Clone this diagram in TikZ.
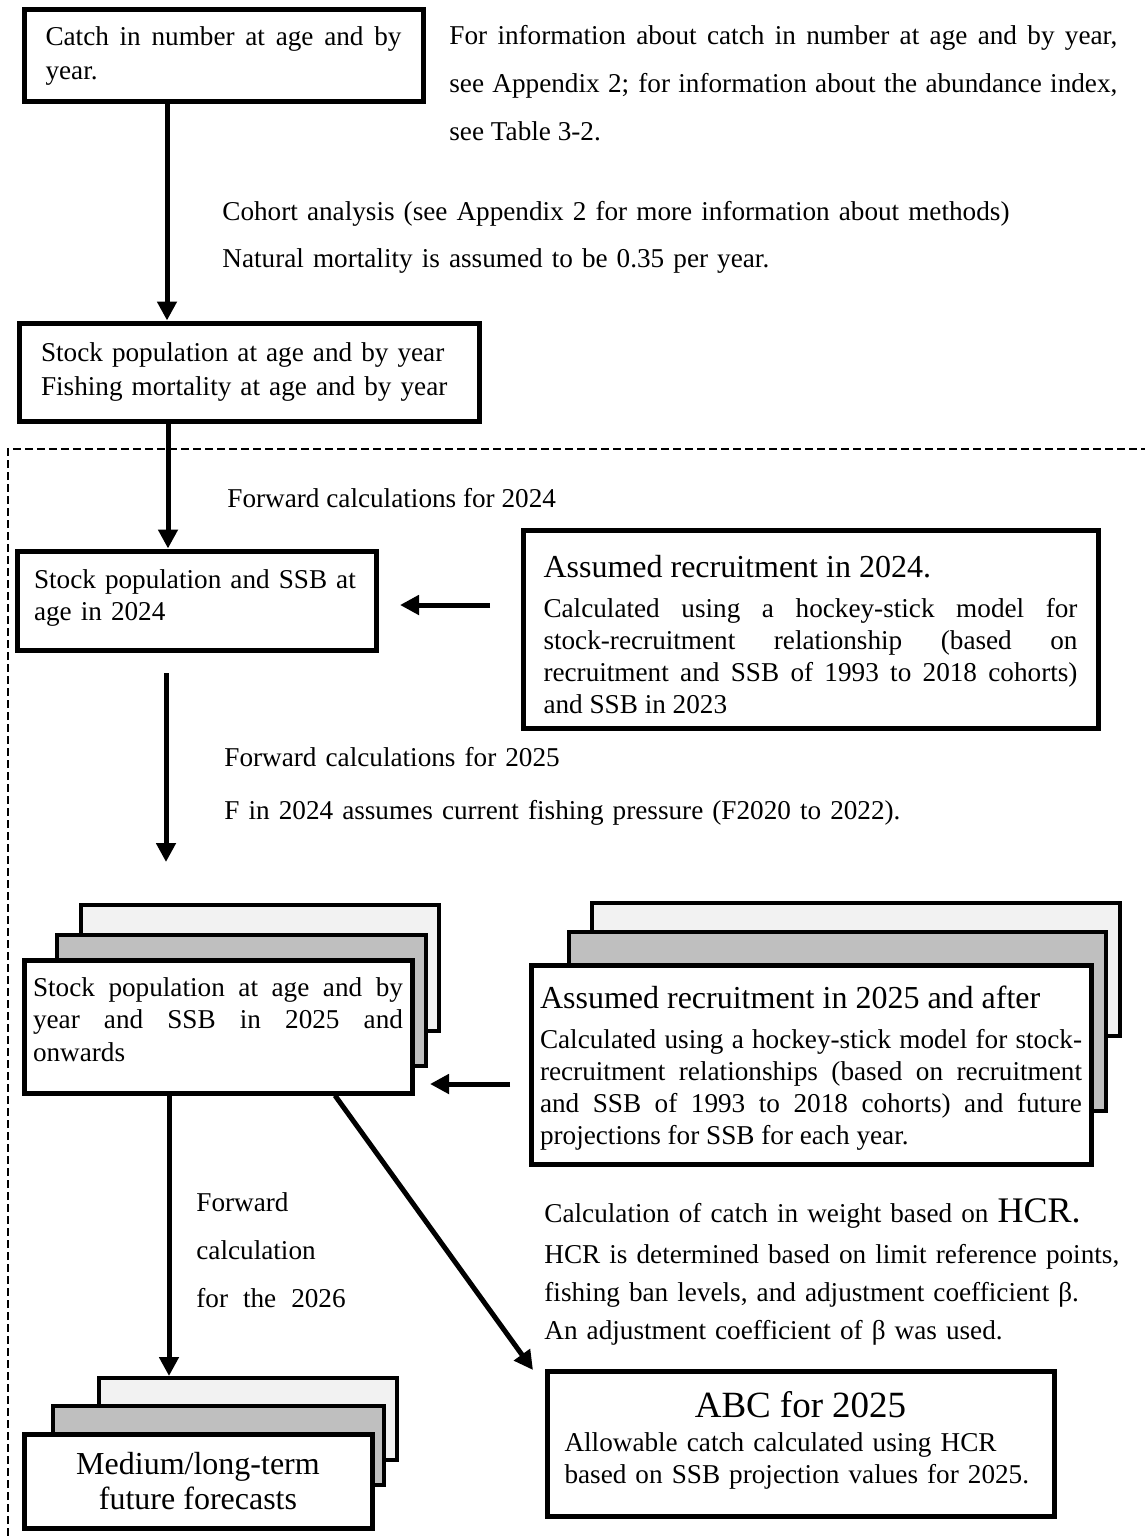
\documentclass[tikz,border=0pt]{standalone}
\usepackage{fontspec}
\setmainfont{Liberation Serif}
\usetikzlibrary{arrows.meta}
\definecolor{backgray}{HTML}{F2F2F2}
\definecolor{midgray}{HTML}{BFBFBF}
\begin{document}
\begin{tikzpicture}[x=0.5pt,y=-0.5pt,
  box/.style={draw,line width=2.5pt,fill=white,inner sep=0pt,anchor=center},
  layer/.style={draw,line width=2pt,inner sep=0pt,anchor=center},
  arr/.style={line width=2.5pt,-{Triangle[length=9.5pt,width=9.5pt]}},
  txt/.style={inner sep=0pt,anchor=base west},
  body/.style={font=\fontsize{13.6}{17}\selectfont},
]
\useasboundingbox (0,0) rectangle (1145,1536);

% dashed frame
\draw[line width=1.1pt,dash pattern=on 4pt off 2pt] (8,1536) -- (8,449) -- (1145,449);

% top boxes
\node[box,body,minimum width=199.5pt,minimum height=46pt,text width=178pt,align=justify] (b1) at (223.5,56)
  {Catch in number at age and by\linebreak year.\par};
\node[box,minimum width=230pt,minimum height=49pt,text width=208pt,align=left,font=\fontsize{13.6}{17}\selectfont] (b2) at (249,372)
  {Stock population at age and by year\\Fishing mortality at age and by year};
\node[box,minimum width=179.5pt,minimum height=49.5pt,text width=163pt,align=left,font=\fontsize{13.6}{16}\selectfont] (b3) at (197,600.5)
  {Stock population and SSB at\\age in 2024\par\kern3pt};
\node[box,minimum width=287.5pt,minimum height=99pt,text width=267pt,align=justify] (b4) at (810.5,629)
  {\fontsize{16}{20}\selectfont Assumed recruitment in 2024.\par\vspace{4pt}
   \fontsize{13.6}{16}\selectfont Calculated using a hockey-stick model for\linebreak stock-recruitment relationship (based on\linebreak recruitment and SSB of 1993 to 2018 cohorts)\linebreak and SSB in 2023\par\kern-6pt};

% stack 5
\node[layer,fill=backgray,minimum width=179pt,minimum height=63pt] (s5b) at (260,968) {};
\node[layer,fill=midgray,minimum width=184.5pt,minimum height=65.5pt] (s5m) at (241.5,1000.5) {};
\node[box,minimum width=194pt,minimum height=66.5pt,text width=185pt,align=justify,font=\fontsize{13.6}{16.25}\selectfont] (s5) at (218,1026.5)
  {Stock population at age and by\linebreak year and SSB in 2025 and\linebreak onwards\par\kern7pt};

% stack 6
\node[layer,fill=backgray,minimum width=264pt,minimum height=66.5pt] (s6b) at (856,969.5) {};
\node[layer,fill=midgray,minimum width=268.5pt,minimum height=89.5pt] (s6m) at (837.5,1021.5) {};
\node[box,minimum width=280pt,minimum height=99.5pt,text width=271pt,align=justify] (s6) at (811,1064.5)
  {\fontsize{16}{20}\selectfont Assumed recruitment in 2025 and after\par\vspace{4pt}
   \fontsize{13.6}{16}\selectfont Calculated using a hockey-stick model for stock-\linebreak recruitment relationships (based on recruitment\linebreak and SSB of 1993 to 2018 cohorts) and future\linebreak projections for SSB for each year.\par\kern-4pt};

% ABC box
\node[box,minimum width=253.5pt,minimum height=72.5pt,text width=236pt,align=left,font=\fontsize{13.6}{16}\selectfont] (abc) at (800.5,1443.5)
  {\makebox[\linewidth][c]{\fontsize{18.5}{22}\selectfont ABC for 2025}\\[1pt]
   Allowable catch calculated using HCR\\based on SSB projection values for 2025.\par\kern3pt};

% stack 7
\node[layer,fill=backgray,minimum width=149pt,minimum height=41pt] (s7b) at (248,1419) {};
\node[layer,fill=midgray,minimum width=165.5pt,minimum height=39.5pt] (s7m) at (218.5,1445.5) {};
\node[box,minimum width=174pt,minimum height=47pt,align=center,font=\fontsize{16}{17.5}\selectfont] (s7) at (198,1481)
  {Medium/long-term\\future forecasts};

% free texts
\node[txt,text width=334pt,align=justify,font=\fontsize{13.6}{24}\selectfont] (t1) at (449,45)
  {For information about catch in number at age and by year,\linebreak see Appendix 2; for information about the abundance index,\linebreak see Table 3-2.\par};
\node[txt,text width=420pt,align=left,font=\fontsize{13.6}{24}\selectfont] (t2) at (222,220)
  {Cohort analysis (see Appendix 2 for more information about methods)\\Natural mortality is assumed to be 0.35 per year.};
\node[txt,body] (t3) at (227,507) {Forward calculations for 2024};
\node[txt,text width=420pt,align=left,font=\fontsize{13.6}{26.5}\selectfont] (t4) at (224,766)
  {Forward calculations for 2025\\F in 2024 assumes current fishing pressure (F2020 to 2022).};
\node[txt,text width=80pt,align=left,font=\fontsize{13.6}{24}\selectfont] (t5) at (196,1211)
  {Forward\\calculation\\for\hspace{0.55em}the\hspace{0.55em}2026};
\node[txt,text width=300pt,align=left,font=\fontsize{13.6}{19}\selectfont] (t6) at (544,1222)
  {Calculation of catch in weight based on {\fontsize{18}{19}\selectfont HCR.}\\[1.5pt]
   HCR is determined based on limit reference points,\\fishing ban levels, and adjustment coefficient β.\\An adjustment coefficient of β was used.};

% connectors
\coordinate (c1) at (167,0);
\coordinate (c2) at (168,0);
\coordinate (c5) at (169,0);
\coordinate (c6) at (335,0);
\coordinate (a3s) at (166,673);
\coordinate (a3e) at (166,862);
\coordinate (l1s) at (490,605);
\coordinate (l1e) at (400,605);
\coordinate (l2s) at (510,1084);
\coordinate (l2e) at (430,1084);
\coordinate (d6e) at (533,1370);

\draw[arr] (b1.south -| c1) -- (b2.north -| c1);
\draw[arr] (b2.south -| c2) -- (b3.north -| c2);
\draw[arr] (a3s) -- (a3e);
\draw[arr] (l1s) -- (l1e);
\draw[arr] (l2s) -- (l2e);
\draw[arr] (s5.south -| c5) -- (s7b.north -| c5);
\draw[arr] (s5.south -| c6) -- (d6e);
\end{tikzpicture}
\end{document}
